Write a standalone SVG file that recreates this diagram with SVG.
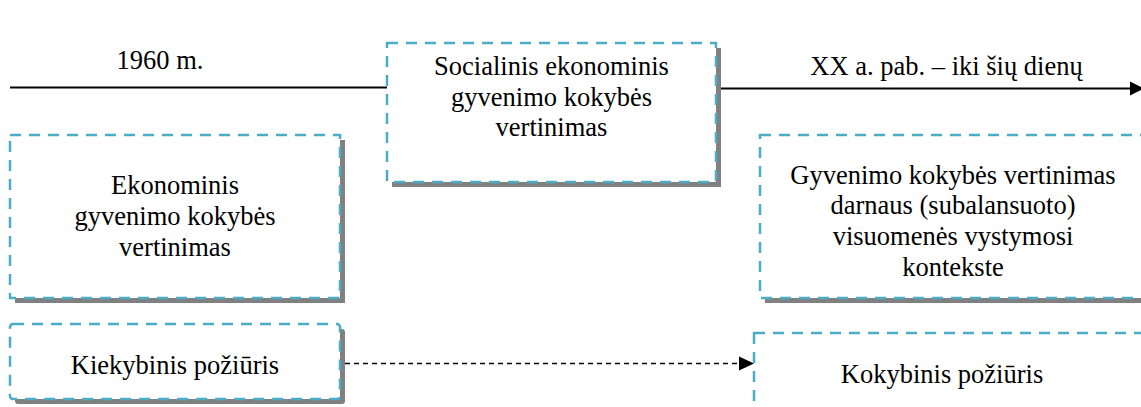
<svg xmlns="http://www.w3.org/2000/svg" width="1141" height="407" viewBox="0 0 1141 407">
<style>
.shadow{fill:#808080;stroke:none}
.box{fill:#ffffff;stroke:#4BACC6;stroke-width:2.5;stroke-dasharray:11 8}
.t{font-family:"Liberation Serif","Times New Roman",serif;font-size:26.5px;fill:#000;text-anchor:middle}
.line{stroke:#000;stroke-width:2;fill:none}
.dline{stroke:#000;stroke-width:1.5;fill:none;stroke-dasharray:5 4}
</style>
<rect width="1141" height="407" fill="#ffffff"/>
<g id="connectors">
  <line class="line" x1="10" y1="87.5" x2="388" y2="87.5"/>
  <line class="line" x1="720" y1="88.5" x2="1132" y2="88.5"/>
  <polygon points="1130,81.5 1144,88.5 1130,95.5" fill="#000"/>
  <line class="dline" x1="345" y1="363.5" x2="740" y2="363.5"/>
  <polygon points="739,356.5 754,363.5 739,370.5" fill="#000"/>
  <text class="t" x="160" y="69">1960 m.</text>
  <text class="t" x="946.5" y="75">XX a. pab. – iki šių dienų</text>
</g>
<g id="node-socialinis">
  <rect class="shadow" x="392" y="48" width="329" height="139"/>
  <rect class="box" x="387" y="43" width="329" height="139"/>
  <text class="t" x="551.5" y="75">Socialinis ekonominis</text>
  <text class="t" x="551.5" y="106">gyvenimo kokybės</text>
  <text class="t" x="551.5" y="136">vertinimas</text>
</g>
<g id="node-ekonominis">
  <rect class="shadow" x="15" y="140" width="330" height="163"/>
  <rect class="box" x="10" y="135" width="330" height="163"/>
  <text class="t" x="175" y="194">Ekonominis</text>
  <text class="t" x="175" y="225">gyvenimo kokybės</text>
  <text class="t" x="175" y="256">vertinimas</text>
</g>
<g id="node-gyvenimo">
  <rect class="shadow" x="765" y="140" width="390" height="163"/>
  <rect class="box" x="760" y="135" width="390" height="163"/>
  <text class="t" x="953" y="184">Gyvenimo kokybės vertinimas</text>
  <text class="t" x="953" y="214">darnaus (subalansuoto)</text>
  <text class="t" x="953" y="245">visuomenės vystymosi</text>
  <text class="t" x="953" y="276">kontekste</text>
</g>
<g id="node-kiekybinis">
  <rect class="shadow" x="15" y="329" width="330" height="75" rx="3"/>
  <rect class="box" x="10" y="324" width="330" height="75" rx="3"/>
  <text class="t" x="175" y="374">Kiekybinis požiūris</text>
</g>
<g id="node-kokybinis">
  <rect class="box" x="754" y="333" width="400" height="90"/>
  <text class="t" x="942" y="383">Kokybinis požiūris</text>
</g>
</svg>
